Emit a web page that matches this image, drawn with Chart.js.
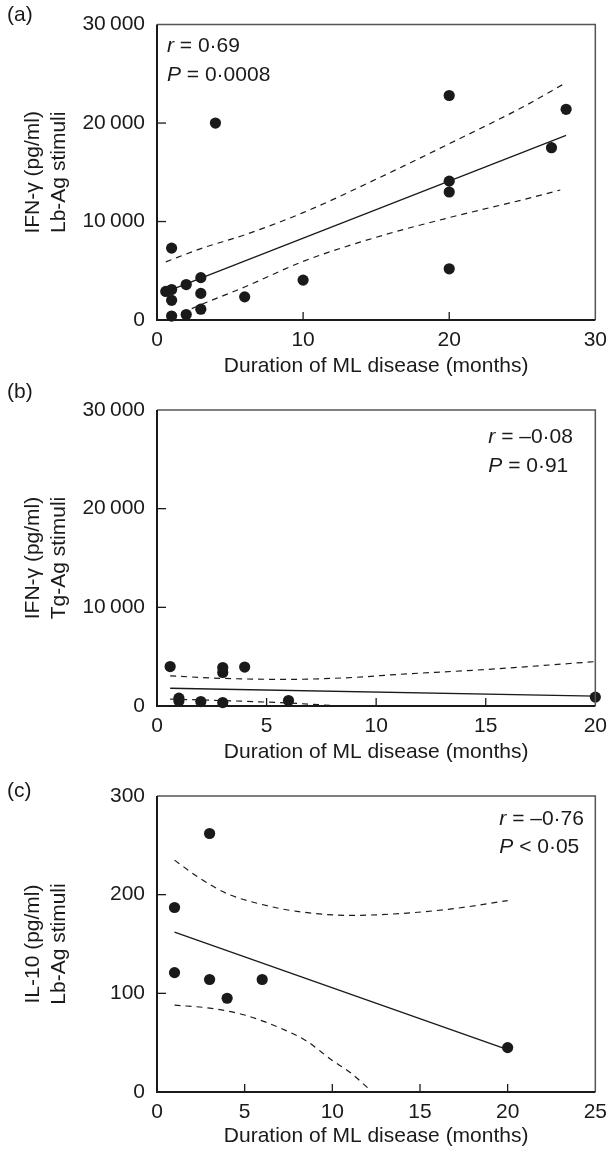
<!DOCTYPE html>
<html>
<head>
<meta charset="utf-8">
<script src="https://cdn.jsdelivr.net/npm/chart.js@4.4.0/dist/chart.umd.min.js"></script>
<style>
  html, body { margin: 0; padding: 0; background: #fff; }
  .panel { position: absolute; left: 0; width: 615px; }
</style>
</head>
<body>
<div class="panel" style="top:0px;height:385px"><canvas id="chartA"></canvas></div>
<div class="panel" style="top:380px;height:385px"><canvas id="chartB"></canvas></div>
<div class="panel" style="top:770px;height:379px"><canvas id="chartC"></canvas></div>
<script>
// Panel (a): IFN-gamma, Lb-Ag stimuli
const aMonths = [0.6, 1, 1, 1, 1, 2, 2, 3, 3, 3, 4, 6, 10, 20, 20, 20, 20, 27, 28];
const aIfn = [2900, 7300, 3100, 2000, 400, 3600, 550, 4300, 2700, 1100, 20000, 2350, 4050, 22800, 14100, 13000, 5200, 17500, 21400];
const aFitX = [0.6, 28];
const aFitY = [2850, 18750];
const aUpperX = [0.6, 3, 6, 10, 15, 20, 25, 28];
const aUpperY = [5900, 7250, 8650, 10900, 14300, 17900, 21600, 24100];
const aLowerX = [1, 3, 6, 10, 15, 20, 25, 27.6];
const aLowerY = [250, 1550, 3350, 5950, 8400, 10400, 12200, 13200];

// Panel (b): IFN-gamma, Tg-Ag stimuli
const bMonths = [0.6, 1, 1, 2, 3, 3, 3, 4, 6, 20];
const bIfn = [4000, 800, 500, 450, 3900, 3400, 350, 3950, 550, 900];
const bFitX = [0.6, 20];
const bFitY = [1800, 1000];
const bUpperX = [0.6, 3, 6, 9, 11, 15, 20];
const bUpperY = [3050, 2800, 2700, 2900, 3200, 3700, 4500];
const bLowerX = [0.6, 3, 6, 8.4];
const bLowerY = [700, 550, 300, 0];

// Panel (c): IL-10, Lb-Ag stimuli
const cMonths = [1, 1, 3, 3, 4, 6, 20];
const cIl10 = [187, 121, 262, 114, 95, 114, 45];
const cFitX = [1, 20];
const cFitY = [162, 43];
const cUpperX = [1, 2.5, 4, 6, 8, 11, 14, 17, 20];
const cUpperY = [235, 216, 201, 190, 183, 179, 181, 186, 194];
const cLowerX = [1, 3, 5, 7, 8.5, 10, 11, 12.1];
const cLowerY = [88, 85, 78, 65, 52, 32, 20, 3];

// tick labels
const ifnTickLabels = ['0', '10\u2009000', '20\u2009000', '30\u2009000'];
const il10TickLabels = ['0', '100', '200', '300'];

const FONT = "'Liberation Sans', Arial, sans-serif";
const INK = '#1a1a1a';

function pts(xs, ys) {
    return xs.map((x, i) => ({ x: x, y: ys[i] }));
}

// box around the plot + inward tick marks + r/P text + panel letter
const framePlugin = {
    id: 'frame',
    afterDatasetsDraw(chart, args, opts) {
        const { ctx, chartArea: a, scales } = chart;
        ctx.save();
        // top / right in grey, left / bottom darker
        ctx.strokeStyle = '#555';
        ctx.lineWidth = 1.5;
        ctx.beginPath();
        ctx.moveTo(a.left, a.top); ctx.lineTo(a.right, a.top); ctx.lineTo(a.right, a.bottom);
        ctx.stroke();
        ctx.strokeStyle = INK;
        ctx.lineWidth = 2;
        ctx.beginPath();
        ctx.moveTo(a.left, a.top); ctx.lineTo(a.left, a.bottom); ctx.lineTo(a.right, a.bottom);
        ctx.stroke();

        // inward ticks
        ctx.lineWidth = 1.3;
        scales.x.ticks.forEach(t => {
            if (t.value <= scales.x.min || t.value >= scales.x.max) return;
            const px = scales.x.getPixelForValue(t.value);
            ctx.beginPath(); ctx.moveTo(px, a.bottom); ctx.lineTo(px, a.bottom - 8); ctx.stroke();
        });
        scales.y.ticks.forEach(t => {
            if (t.value <= scales.y.min || t.value >= scales.y.max) return;
            const py = scales.y.getPixelForValue(t.value);
            ctx.beginPath(); ctx.moveTo(a.left, py); ctx.lineTo(a.left + 9, py); ctx.stroke();
        });

        // r and P
        ctx.fillStyle = INK;
        ctx.textBaseline = 'alphabetic';
        const tx = opts.textLeft ? a.left + opts.textX : a.right - opts.textX;
        [[opts.r, 'r', opts.y1], [opts.p, 'P', opts.y2]].forEach(([rest, sym, dy]) => {
            ctx.font = 'italic 21px ' + FONT;
            ctx.fillText(sym, tx, a.top + dy);
            const w = ctx.measureText(sym).width;
            ctx.font = '21px ' + FONT;
            ctx.fillText(rest, tx + w, a.top + dy);
        });

        // panel letter
        ctx.font = '21px ' + FONT;
        ctx.textBaseline = 'middle';
        ctx.fillText(opts.letter, 7, opts.letterY);
        ctx.restore();
    }
};

function makePanel(id, cfg) {
    const ctx = document.getElementById(id).getContext('2d');
    return new Chart(ctx, {
        type: 'scatter',
        data: {
            datasets: [
                {
                    data: pts(cfg.xs, cfg.ys),
                    backgroundColor: INK,
                    borderWidth: 0,
                    pointRadius: 5.6,
                    clip: false
                },
                {
                    data: pts(cfg.fitX, cfg.fitY),
                    showLine: true,
                    borderColor: INK,
                    borderWidth: 1.3,
                    pointRadius: 0
                },
                {
                    data: pts(cfg.upX, cfg.upY),
                    showLine: true,
                    cubicInterpolationMode: 'monotone',
                    borderColor: INK,
                    borderWidth: 1.2,
                    borderDash: [6, 5],
                    pointRadius: 0
                },
                {
                    data: pts(cfg.loX, cfg.loY),
                    showLine: true,
                    cubicInterpolationMode: 'monotone',
                    borderColor: INK,
                    borderWidth: 1.2,
                    borderDash: [6, 5],
                    pointRadius: 0
                }
            ]
        },
        options: {
            animation: false,
            responsive: true,
            maintainAspectRatio: false,
            layout: { padding: { top: cfg.padTop, right: 13, left: 0, bottom: 0 } },
            plugins: {
                legend: { display: false },
                tooltip: { enabled: false },
                frame: cfg.frame
            },
            scales: {
                x: {
                    type: 'linear',
                    min: 0,
                    max: cfg.xMax,
                    ticks: {
                        stepSize: cfg.xStep,
                        color: INK,
                        padding: 8,
                        font: { family: FONT, size: 21, lineHeight: 1.2 }
                    },
                    grid: { display: false, drawTicks: false },
                    border: { display: false },
                    title: {
                        display: true,
                        text: 'Duration of ML disease (months)',
                        color: INK,
                        padding: { top: 0, bottom: cfg.titlePad },
                        font: { family: FONT, size: 21, lineHeight: 1.2 }
                    },
                    afterFit(scale) { scale.height = cfg.xHeight; }
                },
                y: {
                    type: 'linear',
                    min: 0,
                    max: cfg.yMax,
                    ticks: {
                        stepSize: cfg.yMax / 3,
                        color: INK,
                        padding: 12,
                        font: { family: FONT, size: 21, lineHeight: 1.2 },
                        callback: (v, i) => cfg.yLabels[i]
                    },
                    grid: { display: false, drawTicks: false },
                    border: { display: false },
                    title: {
                        display: true,
                        text: cfg.yTitle,
                        color: INK,
                        padding: { top: 21, bottom: 0 },
                        font: { family: FONT, size: 21, lineHeight: 1.2 }
                    },
                    afterFit(scale) { scale.width = 157; }
                }
            }
        },
        plugins: [framePlugin]
    });
}

makePanel('chartA', {
    xs: aMonths, ys: aIfn, fitX: aFitX, fitY: aFitY,
    upX: aUpperX, upY: aUpperY, loX: aLowerX, loY: aLowerY,
    xMax: 30, xStep: 10, yMax: 30000, yLabels: ifnTickLabels,
    yTitle: ['IFN-\u03b3 (pg/ml)', 'Lb-Ag stimuli'],
    padTop: 23, xHeight: 65, titlePad: 6,
    frame: { r: ' = 0\u00b769', p: ' = 0\u00b70008', textLeft: true, textX: 10, y1: 27, y2: 56, letter: '(a)', letterY: 15 }
});

makePanel('chartB', {
    xs: bMonths, ys: bIfn, fitX: bFitX, fitY: bFitY,
    upX: bUpperX, upY: bUpperY, loX: bLowerX, loY: bLowerY,
    xMax: 20, xStep: 5, yMax: 30000, yLabels: ifnTickLabels,
    yTitle: ['IFN-\u03b3 (pg/ml)', 'Tg-Ag stimuli'],
    padTop: 30, xHeight: 59, titlePad: 0,
    frame: { r: ' = \u20130\u00b708', p: ' = 0\u00b791', textLeft: false, textX: 107, y1: 33, y2: 62, letter: '(b)', letterY: 12 }
});

makePanel('chartC', {
    xs: cMonths, ys: cIl10, fitX: cFitX, fitY: cFitY,
    upX: cUpperX, upY: cUpperY, loX: cLowerX, loY: cLowerY,
    xMax: 25, xStep: 5, yMax: 300, yLabels: il10TickLabels,
    yTitle: ['IL-10 (pg/ml)', 'Lb-Ag stimuli'],
    padTop: 26, xHeight: 57, titlePad: 0,
    frame: { r: ' = \u20130\u00b776', p: ' < 0\u00b705', textLeft: false, textX: 96, y1: 29, y2: 57, letter: '(c)', letterY: 21 }
});
</script>
</body>
</html>
